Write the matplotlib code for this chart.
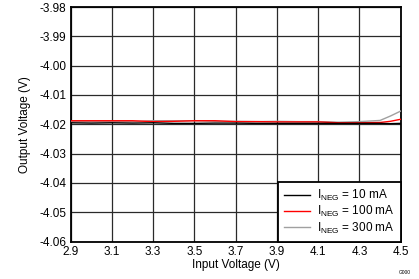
import matplotlib
matplotlib.use("Agg")
import matplotlib.pyplot as plt
from matplotlib.lines import Line2D

plt.rcParams['font.family'] = ['Liberation Sans', 'DejaVu Sans']
plt.rcParams['mathtext.fontset'] = 'custom'
plt.rcParams['mathtext.rm'] = 'Liberation Sans'

x_v = [2.9, 3.0, 3.1, 3.2, 3.3, 3.4, 3.5, 3.6, 3.7, 3.8, 3.9, 4.0, 4.1, 4.2, 4.3, 4.4, 4.45, 4.5]
i10 = [-4.0195, -4.0196, -4.0195, -4.0196, -4.0195, -4.0197, -4.0197, -4.0196, -4.0196, -4.0197,
       -4.0197, -4.0197, -4.0197, -4.0197, -4.0197, -4.0197, -4.0198, -4.0197]
i100 = [-4.0188, -4.0188, -4.0188, -4.0188, -4.0191, -4.0190, -4.0188, -4.0188, -4.0191, -4.0191,
        -4.0192, -4.0192, -4.0192, -4.0195, -4.0195, -4.0194, -4.0190, -4.0183]
i300 = [-4.0191, -4.0191, -4.0191, -4.0191, -4.0188, -4.0188, -4.0188, -4.0190, -4.0190, -4.0191,
        -4.0190, -4.0191, -4.0191, -4.0193, -4.0191, -4.0187, -4.0172, -4.0155]
labels = ['$\\mathregular{I_{NEG}}$ = 10 mA', '$\\mathregular{I_{NEG}}$ = 100 mA', '$\\mathregular{I_{NEG}}$ = 300 mA']
colors = ['#000000', '#ff0000', '#a0a0a0']
xticks = [2.9, 3.1, 3.3, 3.5, 3.7, 3.9, 4.1, 4.3, 4.5]
yticks = [-4.06, -4.05, -4.04, -4.03, -4.02, -4.01, -4.00, -3.99, -3.98]

fig = plt.figure(figsize=(4.19, 2.79), dpi=100)
ax = fig.add_axes([70.5/419, 1 - 241.5/279, (400.7-70.5)/419, (241.5-7)/279])

for ys, c, lab in zip([i300, i100, i10], colors[::-1], labels[::-1]):
    ax.plot(x_v, ys, color=c, lw=1.0, label=lab, zorder=3)

ax.set_xlim(2.9, 4.5)
ax.set_ylim(-4.06, -3.98)
ax.set_xticks(xticks)
ax.set_yticks(yticks)
ax.set_xticklabels([f"{v:.1f}" for v in xticks])
ax.set_yticklabels([f"{v:.2f}" for v in yticks])
ax.grid(True, color='#2a2a2a', lw=0.9)
ax.tick_params(length=0, labelsize=8.5, pad=3, colors='black')
for s in ax.spines.values():
    s.set_linewidth(1.3)
    s.set_color('black')
ax.set_xlabel('Input Voltage (V)', fontsize=8.5, labelpad=1)
ax.set_ylabel('Output Voltage (V)', fontsize=8.5, labelpad=6)

handles = [Line2D([0], [0], color=c, lw=1.0) for c in colors]
leg = ax.legend(handles, labels, loc='lower right', bbox_to_anchor=(1.0, 0.0),
                fontsize=8.5, frameon=True, fancybox=False, framealpha=1,
                edgecolor='black', borderaxespad=0, handlelength=2.2,
                labelspacing=0.1, borderpad=0.5, handletextpad=0.6)
leg.get_frame().set_linewidth(1.3)
leg.set_zorder(5)

fig.text(405/419, 1 - 272/279, 'G000', fontsize=3.5, ha='center', va='center')

fig.savefig('out.png', dpi=100)
